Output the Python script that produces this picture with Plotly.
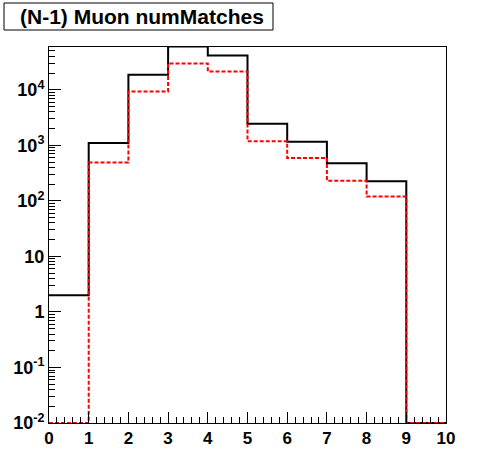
import plotly.graph_objects as go

bin_edges = [0, 1, 2, 3, 4, 5, 6, 7, 8, 9, 10]
black_counts = [2.0, 1100, 18600, 60000, 41500, 2450, 1160, 475, 226, 0]
red_counts = [0, 490, 9300, 29700, 21300, 1180, 590, 230, 120, 0]
ytick_vals = [0.01, 0.1, 1, 10, 100, 1000, 10000]
ytick_text = ["10<sup>-2</sup>", "10<sup>-1</sup>", "1", "10", "10<sup>2</sup>",
              "10<sup>3</sup>", "10<sup>4</sup>"]
title_text = "(N-1) Muon numMatches"

YMIN_LOG = -2
YMAX_LOG = 4.77
floor = 10 ** YMIN_LOG

def step(vals):
    v = [x if x > 0 else floor for x in vals]
    return v + [v[-1]]

W, H = 496, 472
L, R, T, B = 49, 50, 47, 49
pw, ph = W - L - R, H - T - B

fig = go.Figure()
fig.add_trace(go.Scatter(x=bin_edges, y=step(black_counts), mode="lines",
                         line=dict(shape="hv", color="black", width=2),
                         showlegend=False, hoverinfo="skip"))
fig.add_trace(go.Scatter(x=bin_edges, y=step(red_counts), mode="lines",
                         line=dict(shape="hv", color="red", width=2, dash="4px,2px"),
                         showlegend=False, hoverinfo="skip"))

fig.update_layout(
    width=W, height=H,
    margin=dict(l=L, r=R, t=T, b=B, autoexpand=False),
    paper_bgcolor="white", plot_bgcolor="white",
    font=dict(family="Liberation Sans, Arial, sans-serif", color="black"),
    xaxis=dict(range=[0, 10], tickvals=bin_edges, ticks="inside", ticklen=11,
               tickwidth=1, tickcolor="black", showline=True, linecolor="black",
               linewidth=1, mirror=True, showgrid=False, zeroline=False,
               automargin=False,
               tickfont=dict(size=17, weight="bold"),
               minor=dict(dtick=0.2, ticks="inside", ticklen=6, tickcolor="black",
                          showgrid=False)),
    yaxis=dict(type="log", range=[YMIN_LOG, YMAX_LOG], tickvals=ytick_vals,
               ticktext=ytick_text, ticks="inside", ticklen=12, tickwidth=1,
               tickcolor="black", showline=True, linecolor="black", linewidth=1,
               mirror=True, showgrid=False, zeroline=False, automargin=False,
               tickfont=dict(size=18, weight="bold"),
               minor=dict(dtick="D1", ticks="inside", ticklen=6, tickcolor="black",
                          showgrid=False)),
)

fig.add_shape(type="rect", xref="paper", yref="paper",
              x0=(4 - L) / pw, x1=(273 - L) / pw,
              y0=(H - B - 30) / ph, y1=(H - B - 3) / ph,
              line=dict(color="black", width=1), fillcolor="white", layer="above")
fig.add_annotation(text="<b>" + title_text + "</b>", xref="paper", yref="paper",
                   x=(142 - L) / pw, y=(H - B - 16.5) / ph,
                   xanchor="center", yanchor="middle", showarrow=False,
                   font=dict(size=21, color="black",
                             family="Liberation Sans, Arial, sans-serif"))

fig.write_html("out.html", config={"displayModeBar": False},
               post_script="document.body.style.margin='0';document.body.style.overflow='hidden';")
